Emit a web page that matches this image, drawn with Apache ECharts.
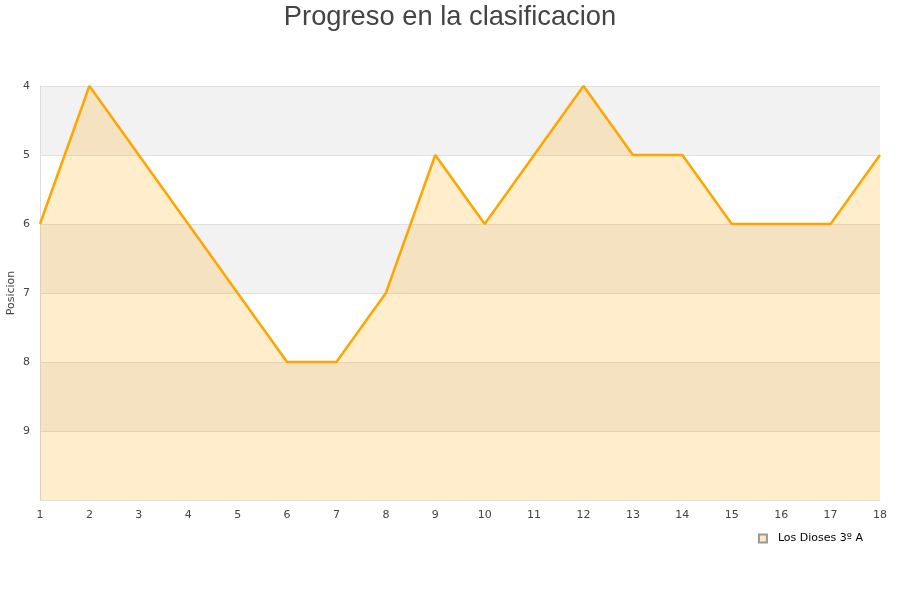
<!DOCTYPE html>
<html><head><meta charset="utf-8">
<script src="https://cdn.jsdelivr.net/npm/echarts@6/dist/echarts.min.js"></script>
<style>html,body{margin:0;padding:0;background:#fff}#c{width:900px;height:600px}</style>
</head><body><div id="c"></div>
<script>
const jornadas = ['1','2','3','4','5','6','7','8','9','10','11','12','13','14','15','16','17','18'];
const posiciones = [6,4,5,6,7,8,8,7,5,6,5,4,5,5,6,6,6,5];
const seriesName = 'Los Dioses 3º A';
const chart = echarts.init(document.getElementById('c'));
chart.setOption({
  animation: false,
  title: {text: 'Progreso en la clasificacion', left: 'center', top: -1,
    textStyle: {fontFamily: 'Liberation Sans, Arial', fontSize: 27.3, fontWeight: 'normal', color: '#444'}},
  legend: {data: [{name: seriesName, icon: 'rect'}], right: 32, top: 528, itemWidth: 8, itemHeight: 8,
    textStyle: {fontFamily: 'DejaVu Sans', fontSize: 11, color: '#000', padding: [0, 0, 0, 6]}},
  grid: {left: 40, right: 20, top: 86, bottom: 100, containLabel: false, outerBoundsMode: 'none'},
  xAxis: {type: 'category', data: jornadas, boundaryGap: false,
    axisLine: {lineStyle: {color: '#ddd'}}, axisTick: {show: false},
    axisLabel: {fontFamily: 'DejaVu Sans', fontSize: 11, color: '#444', margin: 10}},
  yAxis: {type: 'value', inverse: true, min: 4, max: 10, interval: 1,
    name: 'Posicion', nameLocation: 'middle', nameGap: 23, nameRotate: 90, nameMoveOverlap: false,
    nameTextStyle: {fontFamily: 'DejaVu Sans', fontSize: 11, color: '#444'},
    axisLine: {show: true, lineStyle: {color: '#ddd'}}, axisTick: {show: false},
    axisLabel: {fontFamily: 'DejaVu Sans', fontSize: 11, color: '#444', margin: 10,
      formatter: v => v === 10 ? '' : String(v)},
    splitLine: {lineStyle: {color: '#e0e0e0'}},
    splitArea: {show: true, areaStyle: {color: ['#f2f2f2', '#ffffff']}}},
  series: [{name: seriesName, type: 'line', data: posiciones, symbol: 'none',
    lineStyle: {color: '#ffa500', width: 2.5}, itemStyle: {color: '#ffe9c2', borderColor: '#999', borderWidth: 1},
    areaStyle: {color: 'rgba(255,165,0,0.2)', opacity: 1, origin: 'end'}}]
});
</script></body></html>
